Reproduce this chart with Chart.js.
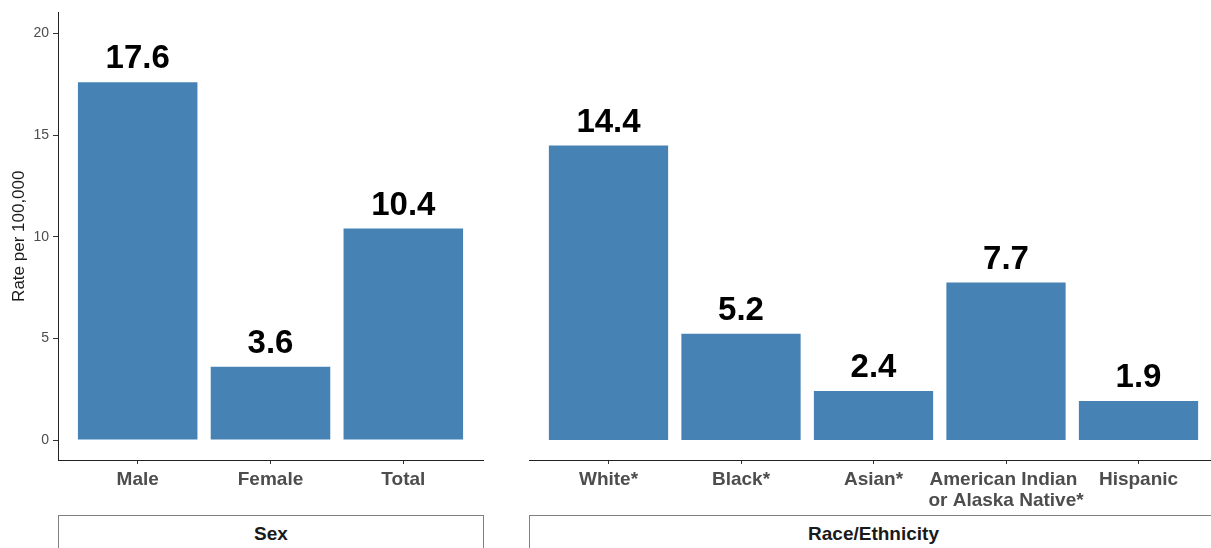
<!DOCTYPE html>
<html>
<head>
<meta charset="utf-8">
<script src="https://cdn.jsdelivr.net/npm/chart.js@4/dist/chart.umd.min.js"></script>
<style>
  html, body { margin: 0; padding: 0; background: #fff; overflow: hidden; }
  #wrap { position: relative; width: 1211px; height: 548px; overflow: hidden; background: #fff; }
  canvas { position: absolute; top: 0; }
  .strip { position: absolute; top: 515px; height: 38px; box-sizing: border-box; border: 1px solid #808080;
           font-family: "Liberation Sans", Arial, sans-serif; font-weight: bold; font-size: 19px; color: #1a1a1a;
           text-align: center; line-height: 36px; background: #fff; }
</style>
</head>
<body>
<div id="wrap">
  <canvas id="left" width="500" height="548" style="left:0px;width:500px;height:548px"></canvas>
  <canvas id="right" width="760" height="548" style="left:471px;width:760px;height:548px"></canvas>
  <div class="strip" id="strip0" style="left:58px;width:426px;"></div>
  <div class="strip" id="strip1" style="left:529px;width:689px;"></div>
</div>
<script>
// ---- data ----
const sexLabels = ['Male', 'Female', 'Total'];
const sexValues = [17.6, 3.6, 10.4];
const raceLabels = ['White*', 'Black*', 'Asian*', ['American Indian ', 'or Alaska Native*'], 'Hispanic'];
const raceValues = [14.4, 5.2, 2.4, 7.7, 1.9];
const yTicks = [0, 5, 10, 15, 20];
const yTitle = 'Rate per 100,000';
const stripLabels = ['Sex', 'Race/Ethnicity'];

document.getElementById('strip0').textContent = stripLabels[0];
document.getElementById('strip1').textContent = stripLabels[1];

Chart.defaults.font.family = '"Liberation Sans", Arial, sans-serif';
Chart.defaults.color = '#4d4d4d';

const BAR = '#4682B4';
const Y_MIN = -0.98, Y_MAX = 21.03;

const valueLabels = {
  id: 'valueLabels',
  afterDatasetsDraw(chart) {
    const ctx = chart.ctx;
    const meta = chart.getDatasetMeta(0);
    const vals = chart.data.datasets[0].data;
    ctx.save();
    ctx.font = 'bold 33px "Liberation Sans", Arial, sans-serif';
    ctx.fillStyle = '#000';
    ctx.textAlign = 'center';
    ctx.textBaseline = 'alphabetic';
    meta.data.forEach((bar, i) => {
      ctx.fillText(vals[i].y.toFixed(1), bar.x, bar.y - 14);
    });
    ctx.restore();
  }
};

function xScale(labels) {
  return {
    type: 'linear',
    offset: false,
    min: 0.4,
    max: labels.length + 0.6,
    afterBuildTicks: s => { s.ticks = labels.map((_, i) => ({ value: i + 1 })); },
    afterFit: s => { s.height = 88; },
    ticks: {
      callback: v => labels[v - 1],
      font: { size: 19, weight: 'bold', lineHeight: 1.1 },
      color: '#4d4d4d',
      padding: 5,
      maxRotation: 0,
      autoSkip: false
    },
    grid: { display: true, offset: false, drawOnChartArea: false, drawTicks: true, tickLength: 4, tickColor: '#333', color: '#333' },
    border: { display: true, color: '#222', width: 1 }
  };
}

function makeChart(id, labels, values, showY, padLeft, padRight) {
  return new Chart(document.getElementById(id), {
    type: 'bar',
    data: {
      datasets: [{
        data: values.map((v, i) => ({ x: i + 1, y: v })),
        backgroundColor: BAR,
        borderWidth: 0,
        barPercentage: 0.9,
        categoryPercentage: 1.0
      }]
    },
    options: {
      responsive: false,
      animation: false,
      layout: { padding: { left: padLeft, right: padRight, top: 10, bottom: 0 } },
      plugins: { legend: { display: false }, tooltip: { enabled: false } },
      scales: {
        x: xScale(labels),
        y: {
          display: showY,
          min: Y_MIN,
          max: Y_MAX,
          afterBuildTicks: s => { s.ticks = yTicks.map(v => ({ value: v })); },
          afterFit: s => { s.width = 58; },
          ticks: { font: { size: 14 }, color: '#4d4d4d', padding: 4 },
          grid: { display: true, drawOnChartArea: false, drawTicks: true, tickLength: 5, tickColor: '#333', color: '#333' },
          border: { display: true, color: '#222', width: 1 },
          title: { display: true, text: yTitle, font: { size: 17 }, color: '#1a1a1a', padding: { top: 9, bottom: 0 } }
        }
      }
    },
    plugins: [valueLabels]
  });
}

makeChart('left', sexLabels, sexValues, true, 0, 17);
makeChart('right', raceLabels, raceValues, false, 0, 13);
</script>
</body>
</html>
